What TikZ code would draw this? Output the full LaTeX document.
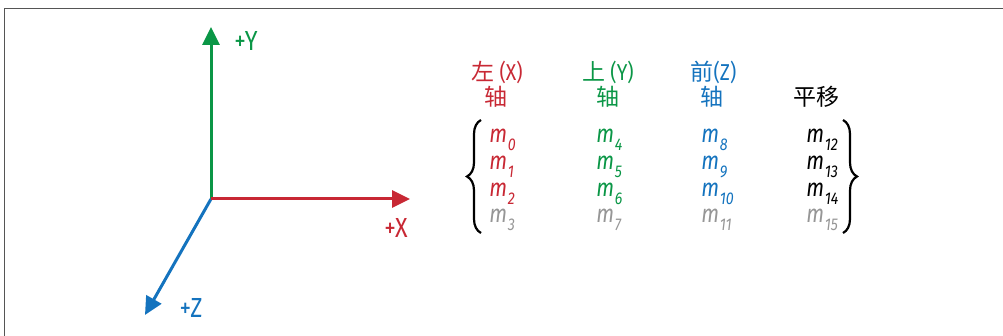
\documentclass[tikz,border=0pt]{standalone}
\usepackage{fontspec}
\setmainfont{Fira Sans}[FakeStretch=0.84]
\newfontfamily\cjk{Noto Sans CJK SC}
\usetikzlibrary{arrows.meta,decorations.pathreplacing}
\definecolor{axred}{RGB}{200,40,52}
\definecolor{axgreen}{RGB}{10,150,70}
\definecolor{axblue}{RGB}{20,115,190}
\definecolor{mgray}{RGB}{150,150,150}
\definecolor{framec}{RGB}{85,85,85}
\newcommand\mel[1]{\textit{m}\kern0.3pt\raisebox{-4pt}{\fontsize{8.5}{9}\selectfont\textit{#1}}}
\tikzset{
  axisline/.style={line width=1.5pt,-{Triangle[length=9pt,width=8.5pt]}},
  lab/.style={inner sep=0pt,font=\fontsize{13.8}{15}\selectfont},
  hd/.style={inner sep=0pt,font=\fontsize{11.5}{13}\selectfont},
  mnode/.style={inner sep=0pt,anchor=base west,font=\fontsize{12.5}{14}\selectfont},
  bracestyle/.style={line width=1.1pt,decorate,decoration={brace,amplitude=7pt}}
}
\begin{document}
\begin{tikzpicture}[x=0.5pt,y=-0.5pt]
\useasboundingbox (0,0) rectangle (1003,336);
\draw[framec,line width=0.8pt] (4.5,336) -- (4.5,8.5) -- (1003,8.5);
% axes
\coordinate (O) at (211,199);
\coordinate (Ytip) at (211,27);
\coordinate (Xtip) at (410,199);
\coordinate (Ztip) at (145,315);
\draw[axisline,axgreen] (O) -- (Ytip);
\draw[axisline,axblue] (O) -- (Ztip);
\draw[axisline,axred] (O) -- (Xtip);
\node[lab,axgreen] (ly) at (246,41) {+Y};
\node[lab,axred] (lx) at (396,228) {+X};
\node[lab,axblue] (lz) at (191,308) {+Z};
% headers
\node[hd,axred] (h1) at (497,72) {{\cjk 左} (X)};
\node[hd,axred] (a1) at (496,97) {\cjk 轴};
\node[hd,axgreen] (h2) at (608,72) {{\cjk 上} (Y)};
\node[hd,axgreen] (a2) at (607.5,97) {\cjk 轴};
\node[hd,axblue] (h3) at (713.5,72) {{\cjk 前}(Z)};
\node[hd,axblue] (a3) at (712,97) {\cjk 轴};
\node[hd,black] (h4) at (816,97) {\cjk 平移};
% matrix entries
\node[mnode,axred] (m0) at (489,143) {\mel{0}};
\node[mnode,axred] (m1) at (489,170) {\mel{1}};
\node[mnode,axred] (m2) at (489,197) {\mel{2}};
\node[mnode,mgray] (m3) at (489,223) {\mel{3}};
\node[mnode,axgreen] (m4) at (596,143) {\mel{4}};
\node[mnode,axgreen] (m5) at (596,170) {\mel{5}};
\node[mnode,axgreen] (m6) at (596,197) {\mel{6}};
\node[mnode,mgray] (m7) at (596,223) {\mel{7}};
\node[mnode,axblue] (m8) at (701,143) {\mel{8}};
\node[mnode,axblue] (m9) at (701,170) {\mel{9}};
\node[mnode,axblue] (m10) at (701,197) {\mel{10}};
\node[mnode,mgray] (m11) at (701,223) {\mel{11}};
\node[mnode,black] (m12) at (806,143) {\mel{12}};
\node[mnode,black] (m13) at (806,170) {\mel{13}};
\node[mnode,black] (m14) at (806,197) {\mel{14}};
\node[mnode,mgray] (m15) at (806,223) {\mel{15}};
% braces
\coordinate (lbB) at (481,233);
\coordinate (lbT) at (481,120);
\coordinate (rbT) at (843,120);
\coordinate (rbB) at (843,233);
\draw[bracestyle] (lbB) -- (lbT);
\draw[bracestyle] (rbT) -- (rbB);
\end{tikzpicture}
\end{document}
